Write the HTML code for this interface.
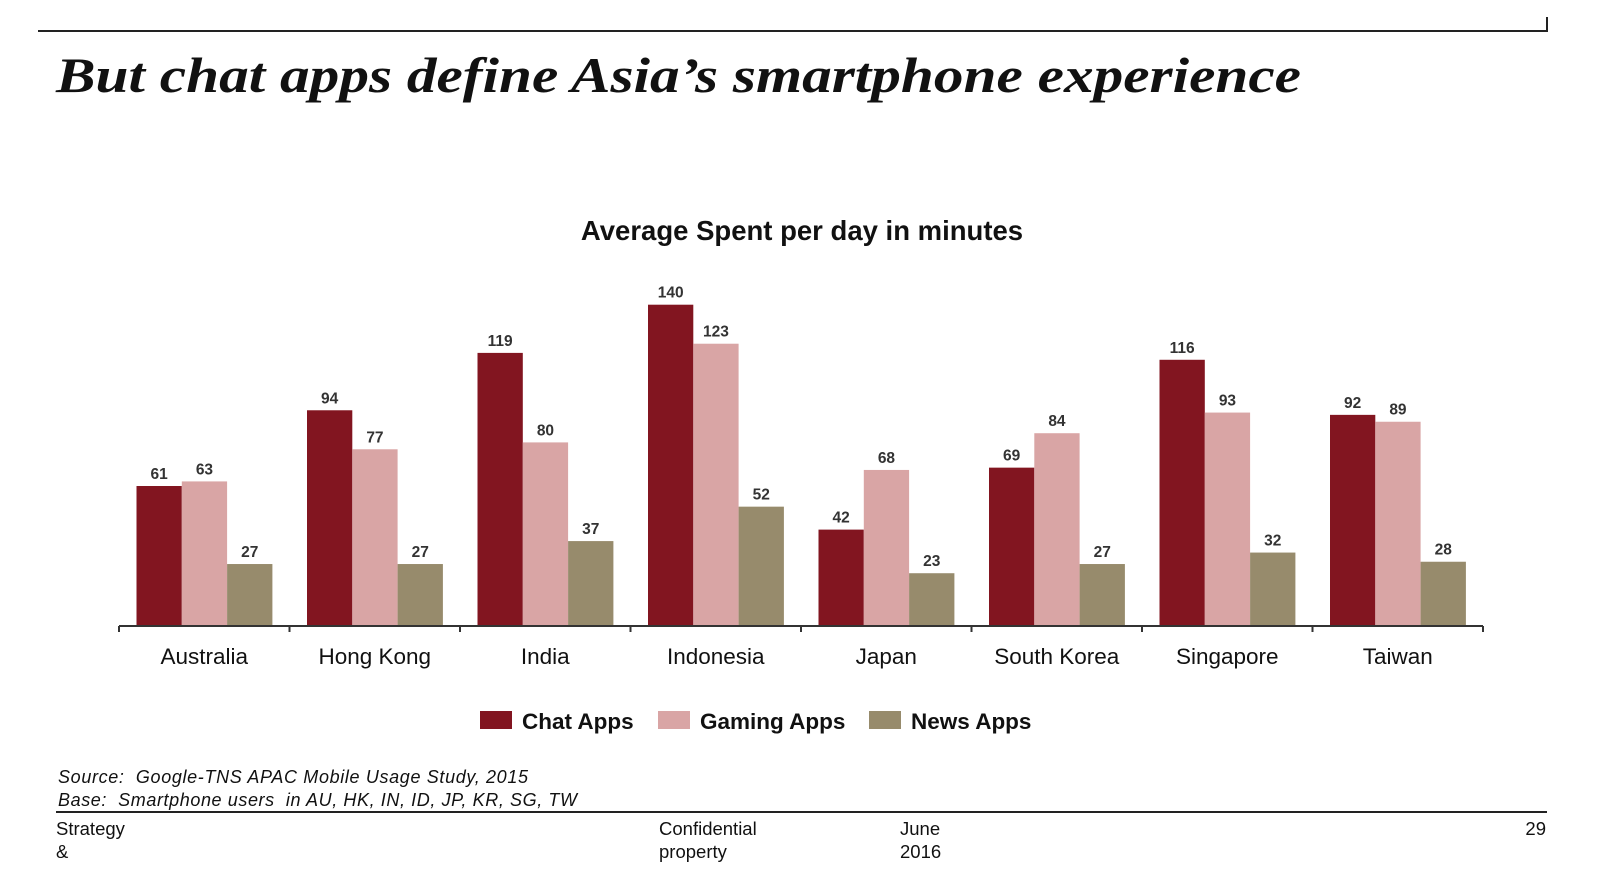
<!DOCTYPE html>
<html><head><meta charset="utf-8"><style>
html,body{margin:0;padding:0;background:#fff;}
svg{display:block;font-family:"Liberation Sans",sans-serif;}
</style></head><body>
<svg id="chart" width="1600" height="875" viewBox="0 0 1600 875">
<line x1="38" y1="31" x2="1547" y2="31" stroke="#222" stroke-width="2"/>
<line x1="1547" y1="17" x2="1547" y2="32" stroke="#222" stroke-width="2"/>
<text x="56" y="92" font-family="Liberation Serif, serif" font-weight="bold" font-style="italic" font-size="50" textLength="1245" lengthAdjust="spacingAndGlyphs" fill="#111">But chat apps define Asia’s smartphone experience</text>
<text x="802" y="240" text-anchor="middle" font-weight="bold" font-size="27.5" fill="#111">Average Spent per day in minutes</text>
<g id="bars"></g>
<line x1="119" y1="626" x2="1483" y2="626" stroke="#333" stroke-width="2"/>
<g id="ticks"></g>
<g>
<rect x="480" y="711" width="32" height="18" fill="#821520"/>
<text x="522" y="729" font-weight="bold" font-size="22.5" fill="#111">Chat Apps</text>
<rect x="658" y="711" width="32" height="18" fill="#d9a5a5"/>
<text x="700" y="729" font-weight="bold" font-size="22.5" fill="#111">Gaming Apps</text>
<rect x="869" y="711" width="32" height="18" fill="#978b6c"/>
<text x="911" y="729" font-weight="bold" font-size="22.5" fill="#111">News Apps</text>
</g>
<text x="58" y="783" xml:space="preserve" font-style="italic" font-size="18" textLength="470" fill="#111">Source:  Google-TNS APAC Mobile Usage Study, 2015</text>
<text x="58" y="806" xml:space="preserve" font-style="italic" font-size="18" textLength="519" fill="#111">Base:  Smartphone users  in AU, HK, IN, ID, JP, KR, SG, TW</text>
<line x1="56" y1="812" x2="1547" y2="812" stroke="#222" stroke-width="2"/>
<g font-size="18.5" fill="#111">
<text x="56" y="835">Strategy</text>
<text x="56" y="858">&amp;</text>
<text x="659" y="835">Confidential</text>
<text x="659" y="858">property</text>
<text x="900" y="835">June</text>
<text x="900" y="858">2016</text>
<text x="1546" y="835" text-anchor="end">29</text>
</g>
</svg>
<script>
const categories = ["Australia","Hong Kong","India","Indonesia","Japan","South Korea","Singapore","Taiwan"];
const chatApps = [61,94,119,140,42,69,116,92];
const gamingApps = [63,77,80,123,68,84,93,89];
const newsApps = [27,27,37,52,23,27,32,28];
const seriesNames = ["chat","gaming","news"];

const NS = "http://www.w3.org/2000/svg";
const x0 = 119, x1 = 1483, baseY = 626, pxPerUnit = 2.295;
const bandW = (x1 - x0) / categories.length;
const barW = 45.3, offset = 17.5;
const colors = ["#821520","#d9a5a5","#978b6c"];
const xBand = i => x0 + i * bandW;
const yScale = v => baseY - v * pxPerUnit;
const gBars = document.getElementById("bars");
const gTicks = document.getElementById("ticks");
const series = [chatApps, gamingApps, newsApps];

for (let i = 0; i <= categories.length; i++) {
  const t = document.createElementNS(NS, "line");
  t.setAttribute("x1", xBand(i)); t.setAttribute("x2", xBand(i));
  t.setAttribute("y1", baseY); t.setAttribute("y2", baseY + 6);
  t.setAttribute("stroke", "#333"); t.setAttribute("stroke-width", "2");
  
  
  gTicks.appendChild(t);
}
categories.forEach((c, i) => {
  series.forEach((s, k) => {
    const v = s[i];
    const x = xBand(i) + offset + k * barW;
    const r = document.createElementNS(NS, "rect");
    r.setAttribute("x", x); r.setAttribute("y", yScale(v));
    r.setAttribute("width", barW); r.setAttribute("height", baseY - yScale(v));
    r.setAttribute("fill", colors[k]);
    
    
    gBars.appendChild(r);
    const t = document.createElementNS(NS, "text");
    t.setAttribute("x", x + barW / 2); t.setAttribute("y", yScale(v) - 7);
    t.setAttribute("text-anchor", "middle"); t.setAttribute("font-size", "15.5");
    t.setAttribute("font-weight", "bold"); t.setAttribute("fill", "#333");
    t.textContent = v;
    
    
    gBars.appendChild(t);
  });
  const l = document.createElementNS(NS, "text");
  l.setAttribute("x", xBand(i) + bandW / 2); l.setAttribute("y", 664);
  l.setAttribute("text-anchor", "middle"); l.setAttribute("font-size", "22.5");
  l.setAttribute("fill", "#111");
  l.textContent = c;
  
  
  gBars.appendChild(l);
});
</script>
</body></html>
